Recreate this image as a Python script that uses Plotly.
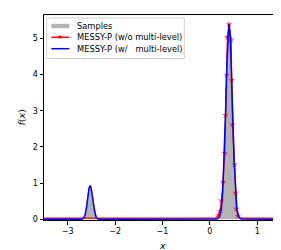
import plotly.graph_objects as go

# Histogram of samples (bin centers, density heights; empty edge bins = 0)
hist_x = [-2.695, -2.665, -2.635, -2.605, -2.575, -2.545, -2.515, -2.485, -2.455, -2.425, -2.395, -2.365,
          0.155, 0.185, 0.215, 0.245, 0.275, 0.305, 0.335, 0.365, 0.395, 0.425, 0.455,
          0.485, 0.515, 0.545, 0.575, 0.605, 0.635, 0.665]
hist_y = [0.0, 0.04, 0.14, 0.36, 0.68, 0.89, 0.93, 0.76, 0.46, 0.21, 0.06, 0.0,
          0.0, 0.04, 0.12, 0.36, 0.90, 1.90, 3.20, 4.55, 5.35, 5.20, 4.15,
          2.75, 1.50, 0.68, 0.26, 0.08, 0.02, 0.0]

# MESSY-P (w/o multi-level)
red_x = [-3.5, 0.12, 0.179, 0.213, 0.243, 0.277, 0.313, 0.328, 0.355, 0.368, 0.403,
         0.447, 0.462, 0.477, 0.519, 0.540, 0.560, 0.589, 0.65, 1.5]
red_y = [0.03, 0.03, 0.11, 0.23, 0.52, 1.03, 1.83, 2.88, 3.99, 5.04, 5.39,
         4.97, 3.85, 2.62, 1.51, 0.73, 0.29, 0.09, 0.03, 0.03]

# MESSY-P (w/ multi-level)
blue_x = [-3.5, -2.70, -2.66, -2.63, -2.60, -2.57, -2.55, -2.53, -2.51, -2.49, -2.46,
          -2.43, -2.40, -2.37, -2.34, 0.10, 0.15, 0.20, 0.24, 0.27, 0.30, 0.33, 0.36,
          0.38, 0.405, 0.43, 0.45, 0.48, 0.51, 0.54, 0.57, 0.61, 0.66, 1.5]
blue_y = [0.0, 0.0, 0.04, 0.13, 0.35, 0.68, 0.86, 0.93, 0.88, 0.73, 0.44,
          0.20, 0.06, 0.01, 0.0, 0.0, 0.005, 0.06, 0.28, 0.74, 1.64, 2.94, 4.37,
          5.07, 5.40, 5.07, 4.37, 2.94, 1.64, 0.74, 0.28, 0.06, 0.005, 0.0]

x_ticks = [-3, -2, -1, 0, 1]
y_ticks = [0, 1, 2, 3, 4, 5]

legend_labels = ["Samples", "MESSY-P (w/o multi-level)", "MESSY-P (w/   multi-level)"]
x_title = "<i>x</i>"
y_title = "<i>f</i>(<i>x</i>)"

font = "DejaVu Sans"
W, H = 281, 250
ML, MR, MT, MB = 36, 8, 7, 38
PW, PH = W - ML - MR, H - MT - MB
GRAY = "#b3b3b3"


def px(x):
    return (x - ML) / PW


def py(y):
    return (H - MB - y) / PH


fig = go.Figure()
fig.add_trace(go.Scatter(x=hist_x, y=hist_y, mode="lines",
                         line=dict(width=1, color=GRAY), fill="tozeroy", fillcolor=GRAY,
                         name=legend_labels[0], showlegend=False))
fig.add_trace(go.Scatter(x=red_x, y=red_y, mode="lines+markers",
                         line=dict(color="red", width=1.2),
                         marker=dict(symbol="star", color="red", line=dict(width=0),
                                     size=[0 if (v < 0.05) else 5 for v in red_y]),
                         name=legend_labels[1], showlegend=False))
fig.add_trace(go.Scatter(x=blue_x, y=blue_y, mode="lines",
                         line=dict(color="blue", width=1.5),
                         name=legend_labels[2], showlegend=False))

axis_common = dict(showline=True, linecolor="black", linewidth=1, mirror=True,
                   ticks="outside", ticklen=3.5, tickcolor="black", tickwidth=1,
                   showgrid=False, zeroline=False,
                   tickfont=dict(family=font, size=8, color="black"))

# Manual compact legend (matplotlib style)
shapes = [dict(type="rect", xref="paper", yref="paper",
               x0=px(38.7), x1=px(176.3), y0=py(50.5), y1=py(10),
               line=dict(color="#d0d0d0", width=1), fillcolor="rgba(255,255,255,0.8)",
               layer="above")]
rows = [18, 29.3, 40.7]
shapes.append(dict(type="rect", xref="paper", yref="paper",
                   x0=px(43.3), x1=px(61.3), y0=py(rows[0] + 2.2), y1=py(rows[0] - 2.2),
                   line=dict(width=0), fillcolor=GRAY, layer="above"))
shapes.append(dict(type="line", xref="paper", yref="paper",
                   x0=px(43.3), x1=px(61.3), y0=py(rows[1]), y1=py(rows[1]),
                   line=dict(color="red", width=1.5), layer="above"))
shapes.append(dict(type="line", xref="paper", yref="paper",
                   x0=px(43.3), x1=px(61.3), y0=py(rows[2]), y1=py(rows[2]),
                   line=dict(color="blue", width=1.5), layer="above"))
annotations = []
for lab, r in zip(legend_labels, rows):
    annotations.append(dict(text=lab, xref="paper", yref="paper", x=px(66.5), y=py(r),
                            xanchor="left", yanchor="middle", showarrow=False,
                            font=dict(family=font, size=8.3, color="black")))
annotations.append(dict(text="★", xref="paper", yref="paper", x=px(52.3), y=py(rows[1]),
                        xanchor="center", yanchor="middle", showarrow=False,
                        font=dict(family=font, size=6.5, color="red")))
# Axis titles placed like matplotlib
annotations.append(dict(text=x_title, xref="paper", yref="paper", x=0.5, y=py(237),
                        xanchor="center", yanchor="middle", showarrow=False,
                        font=dict(family=font, size=9.5, color="black")))
annotations.append(dict(text=y_title, xref="paper", yref="paper", x=px(13), y=0.5,
                        xanchor="center", yanchor="middle", showarrow=False, textangle=-90,
                        font=dict(family=font, size=9.5, color="black")))

fig.update_layout(
    width=W, height=H,
    margin=dict(l=ML, r=MR, t=MT, b=MB),
    paper_bgcolor="white", plot_bgcolor="white",
    showlegend=False,
    font=dict(family=font, size=8, color="black"),
    xaxis=dict(range=[-3.5, 1.5], tickvals=x_ticks, **axis_common),
    yaxis=dict(range=[-0.02, 5.65], tickvals=y_ticks, **axis_common),
    shapes=shapes, annotations=annotations,
)

fig.write_html("out.html")
